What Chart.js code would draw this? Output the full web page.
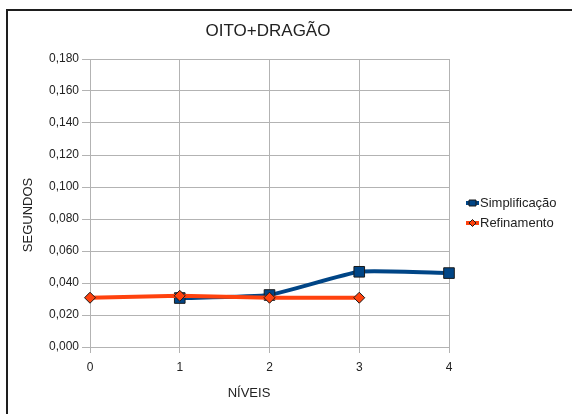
<!DOCTYPE html>
<html>
<head>
<meta charset="utf-8">
<script src="https://cdn.jsdelivr.net/npm/chart.js@4/dist/chart.umd.min.js"></script>
<style>
  html, body { margin: 0; padding: 0; background: #fff; overflow: hidden; }
  canvas { display: block; }
</style>
</head>
<body>
<canvas id="chart" width="572" height="414"></canvas>
<script>
const levels = ['0', '1', '2', '3', '4'];
const simplificacao = [null, 0.0306, 0.0325, 0.0470, 0.0462];
const refinamento = [0.0308, 0.0320, 0.0308, 0.0308, null];
const chartTitle = 'OITO+DRAGÃO';
const xTitle = 'NÍVEIS';
const yTitle = 'SEGUNDOS';

const FONT = '"Liberation Sans", Arial, sans-serif';
const TEXT = '#222';
const GRID = '#b3b3b3';

// outer frame, title, axis titles and legend drawn by hand so they sit where the original has them
const extras = {
  id: 'extras',
  beforeDraw(chart) {
    const ctx = chart.ctx;
    ctx.save();
    ctx.fillStyle = '#fff';
    ctx.fillRect(0, 0, chart.width, chart.height);
    ctx.strokeStyle = '#1e1e1e';
    ctx.lineWidth = 2;
    ctx.beginPath();
    ctx.moveTo(7, chart.height);
    ctx.lineTo(7, 10);
    ctx.lineTo(chart.width, 10);
    ctx.stroke();
    ctx.restore();
  },
  afterDraw(chart) {
    const ctx = chart.ctx;
    ctx.save();
    ctx.fillStyle = TEXT;
    ctx.textBaseline = 'middle';

    ctx.font = '17px ' + FONT;
    ctx.textAlign = 'center';
    ctx.fillText(chartTitle, 268, 31);

    ctx.font = '13px ' + FONT;
    ctx.fillText(xTitle, 249, 393);

    ctx.save();
    ctx.translate(28, 215);
    ctx.rotate(-Math.PI / 2);
    ctx.fillText(yTitle, 0, 0);
    ctx.restore();

    // legend
    chart.data.datasets.forEach((ds, i) => {
      const y = 203 + i * 20;
      ctx.strokeStyle = ds.borderColor;
      ctx.lineWidth = 4;
      ctx.beginPath();
      ctx.moveTo(466, y);
      ctx.lineTo(479, y);
      ctx.stroke();
      ctx.fillStyle = ds.pointBackgroundColor;
      ctx.strokeStyle = '#1a1a1a';
      ctx.lineWidth = 1;
      ctx.beginPath();
      if (ds.pointStyle === 'rect') {
        ctx.rect(469, y - 3, 7, 6);
      } else {
        ctx.moveTo(472.5, y - 3.5);
        ctx.lineTo(476, y);
        ctx.lineTo(472.5, y + 3.5);
        ctx.lineTo(469, y);
        ctx.closePath();
      }
      ctx.fill();
      ctx.stroke();
      ctx.fillStyle = TEXT;
      ctx.textAlign = 'left';
      ctx.font = '13px ' + FONT;
      ctx.fillText(ds.label, 480, y);
    });
    ctx.restore();
  }
};

new Chart(document.getElementById('chart'), {
  type: 'line',
  data: {
    labels: levels,
    datasets: [
      {
        label: 'Simplificação',
        data: simplificacao,
        borderColor: '#004586',
        borderWidth: 4,
        tension: 0.15,
        pointStyle: 'rect',
        pointRadius: 7.5,
        pointBackgroundColor: '#004586',
        pointBorderColor: '#1a1a1a',
        pointBorderWidth: 1,
        order: 1
      },
      {
        label: 'Refinamento',
        data: refinamento,
        borderColor: '#ff420e',
        borderWidth: 4,
        tension: 0,
        pointStyle: 'rectRot',
        pointRadius: 5.5,
        pointBackgroundColor: '#ff420e',
        pointBorderColor: '#1a1a1a',
        pointBorderWidth: 1,
        order: 0
      }
    ]
  },
  options: {
    responsive: false,
    animation: false,
    layout: { padding: { left: 0, top: 59, right: 123, bottom: 0 } },
    plugins: {
      legend: { display: false },
      title: { display: false },
      tooltip: { enabled: false }
    },
    scales: {
      x: {
        offset: false,
        afterFit: s => { s.height = 67; },
        grid: { color: GRID, lineWidth: 1, tickLength: 6, tickColor: GRID },
        border: { color: GRID },
        ticks: { color: TEXT, font: { family: FONT, size: 12 }, padding: 7, maxRotation: 0 }
      },
      y: {
        min: 0,
        max: 0.18,
        afterFit: s => { s.width = 90; },
        grid: { color: GRID, lineWidth: 1, tickLength: 8, tickColor: GRID },
        border: { color: GRID },
        ticks: {
          stepSize: 0.02,
          color: TEXT,
          font: { family: FONT, size: 12 },
          padding: 3,
          callback: v => v.toFixed(3).replace('.', ',')
        }
      }
    }
  },
  plugins: [extras]
});
</script>
</body>
</html>
